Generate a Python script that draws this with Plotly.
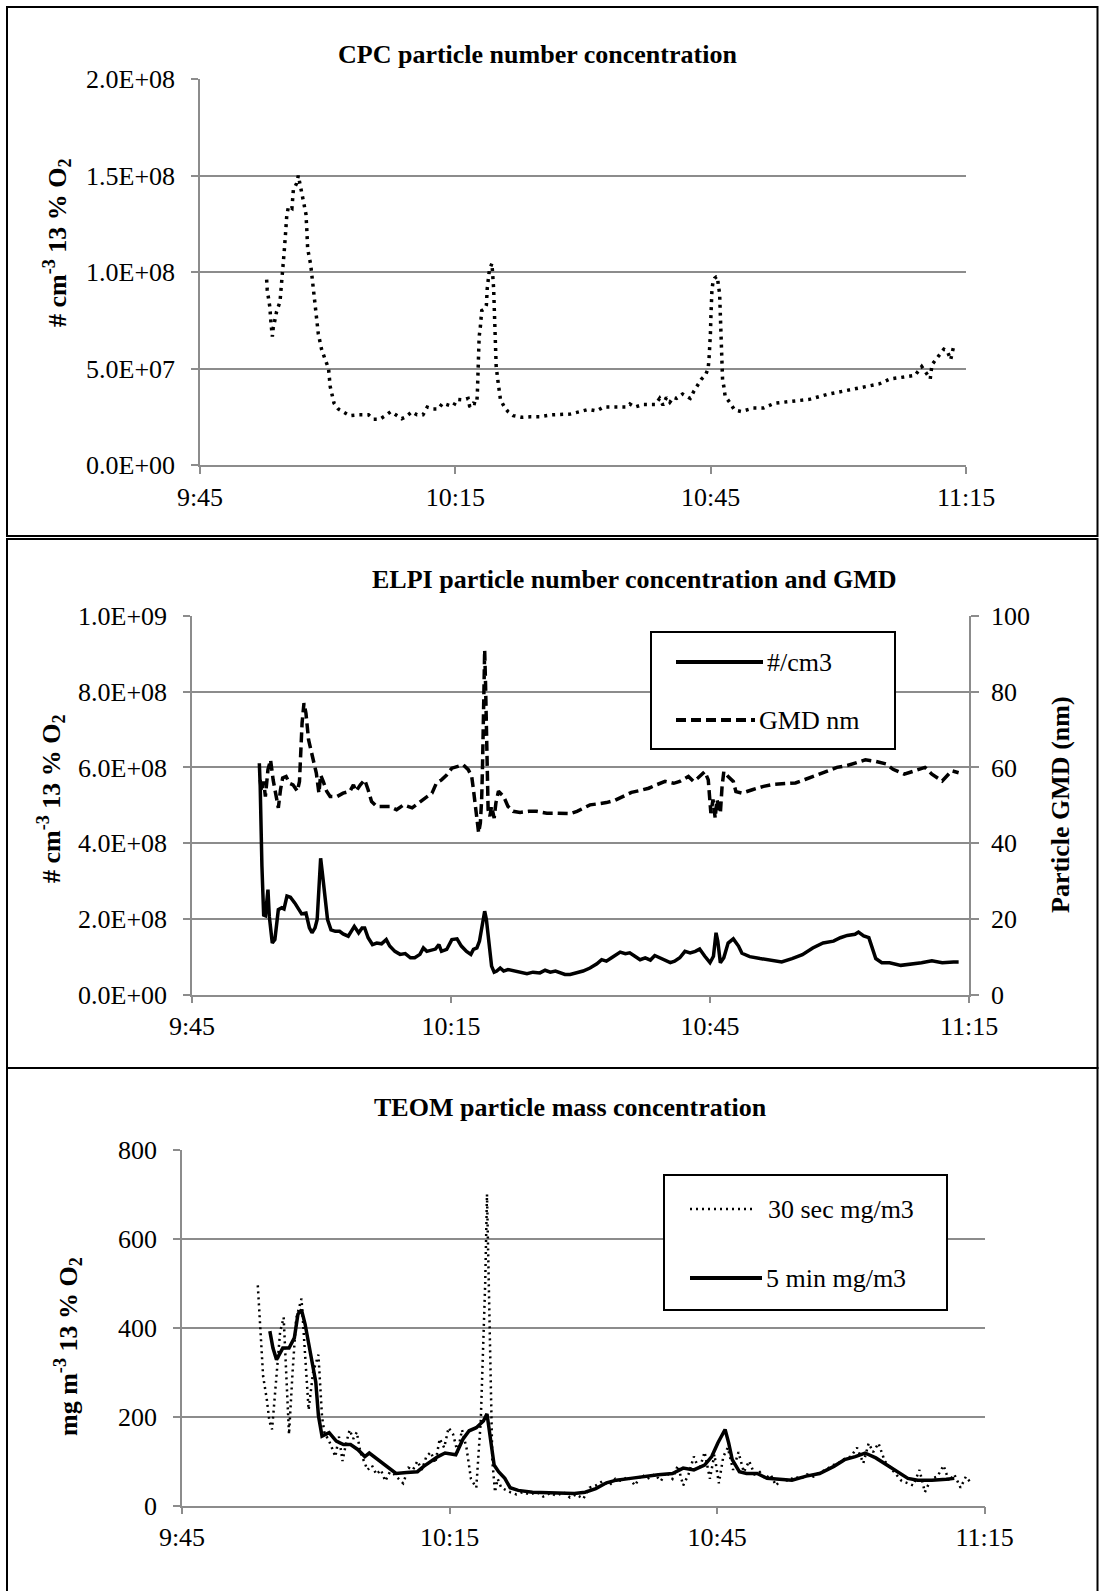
import plotly.graph_objects as go

# ---------------- data (x = minutes after 9:45) ----------------
cpc_min = [7.83, 7.9, 8.2, 8.25, 8.35, 8.5, 8.6, 8.8, 9.0, 9.4, 9.6, 9.75, 9.9, 10.05, 10.2, 10.4, 10.8, 10.97,
           11.36, 11.55, 11.75, 12.1, 12.45, 12.55, 12.65, 13.0, 13.2, 13.4, 13.65, 13.9, 14.3, 14.7, 15.1, 15.3,
           15.5, 15.75, 16.25, 17.0, 17.6, 18.6, 19.8, 20.4, 21.1, 21.8, 22.4, 23.0, 23.7, 24.2, 24.9, 25.5, 26.2,
           26.7, 27.4, 28.0, 28.5, 29.4, 29.8, 30.2, 30.9, 31.5, 31.7, 32.1, 32.5, 32.58, 32.62, 32.67, 32.72, 32.8,
           32.95, 33.1, 33.5, 33.65, 33.75, 33.85, 34.0, 34.3, 34.38, 34.5, 34.57, 34.63, 34.7, 34.74, 34.8, 35.05,
           35.3, 35.8, 36.2, 36.8, 37.8, 38.8, 39.9, 41.3, 42.3, 43.5, 44.6, 45.6, 46.6, 47.4, 48.8, 50.1, 50.5, 51.1,
           52.1, 53.5, 54.0, 54.4, 54.8, 55.2, 55.6, 56.0, 56.7, 57.6, 58.0, 58.5, 58.9, 59.4, 59.7, 59.8, 59.9, 59.97,
           60.03, 60.08, 60.15, 60.28, 60.45, 60.7, 60.8, 60.9, 61.05, 61.12, 61.2, 61.28, 61.4, 61.55, 61.7, 62.3,
           62.8, 63.6, 65.0, 66.2, 67.5, 69.5, 71.6, 73.7, 75.7, 77.8, 79.8, 81.1, 82.7, 84.0, 84.8, 85.8, 86.0, 86.8,
           87.4, 87.8, 88.2, 88.6]
cpc_1e7 = [9.6, 9.07, 8.2, 7.8, 7.3, 6.65, 7.1, 7.5, 7.95, 8.46, 9.4, 10.3, 11.1, 12.0, 12.95, 13.4, 13.3, 14.25,
           14.6, 15.0, 14.6, 13.9, 13.0, 12.2, 11.2, 10.4, 9.5, 8.6, 7.7, 6.8, 5.96, 5.5, 5.0, 4.06,
           3.6, 3.2, 2.9, 2.73, 2.56, 2.6, 2.6, 2.37, 2.37, 2.56, 2.76, 2.6, 2.4, 2.5, 2.76, 2.6, 2.6,
           3.0, 2.9, 2.9, 3.2, 3.07, 3.07, 3.4, 3.37, 3.45, 3.0, 3.2, 3.16, 3.6, 4.06, 4.9, 5.8, 6.65,
           7.2, 8.0, 8.1, 8.3, 9.15, 9.7, 10.1, 10.45, 10.0, 9.15, 8.2, 7.3, 6.4, 5.96, 5.1, 4.2,
           3.4, 2.97, 2.76, 2.56, 2.47, 2.5, 2.5, 2.6, 2.6, 2.64, 2.76, 2.88, 2.8, 3.0, 3.0, 3.0, 3.16, 3.0,
           3.14, 3.14, 3.45, 3.1, 3.5, 3.25, 3.5, 3.45, 3.68, 3.45, 3.8, 4.15, 4.44, 4.66, 5.0, 5.44, 5.96, 6.8,
           7.7, 8.55, 9.07, 9.5, 9.67, 9.76, 9.76, 9.3, 8.9, 8.0, 6.65, 5.44, 4.4, 4.06, 3.57, 3.2,
           2.85, 2.77, 2.95, 2.95, 3.2, 3.3, 3.4, 3.66, 3.84, 4.0, 4.2, 4.46, 4.55, 4.64, 5.1, 4.46, 5.2, 5.7,
           6.0, 5.9, 5.45, 6.25]

elpi_min = [7.8, 7.9, 8.1, 8.3, 8.5, 8.8, 8.95, 9.3, 9.6, 10.0, 10.4, 10.66, 11.0, 11.4, 11.9, 12.3, 12.7, 13.2,
            13.6, 13.9, 14.25, 14.5, 14.75, 14.9, 15.1, 15.4, 15.7, 16.1, 16.6, 17.1, 17.5, 18.1, 18.8, 19.3, 19.7,
            20.0, 20.4, 20.9, 21.4, 21.95, 22.5, 22.9, 23.5, 24.1, 24.7, 25.3, 25.8, 26.4, 26.8, 27.2, 27.8, 28.2,
            28.6, 28.9, 29.5, 30.1, 30.7, 31.2, 31.8, 32.3, 32.6, 33.0, 33.3, 33.55, 33.9, 34.1, 34.4, 34.7, 35.0,
            35.3, 35.7, 36.1, 36.6, 37.2, 38.0, 38.8, 39.5, 40.3, 40.9, 41.5, 42.1, 42.6, 43.2, 43.8, 44.6, 45.3,
            46.1, 46.9, 47.45, 48.0, 48.6, 49.2, 49.6, 50.2, 50.7, 51.3, 51.9, 52.5, 53.1, 53.6, 54.2, 54.8, 55.4,
            55.9, 56.5, 57.1, 57.7, 58.3, 58.8, 59.4, 60.0, 60.4, 60.7, 60.9, 61.2, 61.6, 62.1, 62.7, 63.3, 63.7,
            64.6, 65.8, 67.0, 68.3, 69.5, 70.7, 71.9, 73.1, 74.3, 75.1, 75.9, 76.8, 77.2, 77.8, 78.4, 78.8, 79.2,
            79.9, 80.8, 82.1, 83.3, 84.5, 85.7, 86.9, 88.2, 88.8]
elpi_1e8 = [6.11, 5.5, 3.39, 2.1, 2.08, 2.77, 2.07, 1.36, 1.45, 2.24, 2.29, 2.26, 2.6, 2.57, 2.42, 2.26, 2.13, 2.15,
            1.76, 1.63, 1.76, 1.98, 2.86, 3.6, 3.21, 2.5, 1.98, 1.71, 1.67, 1.67, 1.6, 1.54, 1.8, 1.63, 1.76,
            1.76, 1.5, 1.32, 1.36, 1.34, 1.45, 1.28, 1.14, 1.06, 1.08, 0.97, 0.97, 1.06, 1.23, 1.14, 1.17, 1.2,
            1.32, 1.14, 1.19, 1.45, 1.47, 1.28, 1.14, 1.06, 1.19, 1.23, 1.41, 1.76, 2.2, 1.98, 1.36, 0.75, 0.59,
            0.62, 0.70, 0.62, 0.66, 0.63, 0.57, 0.55, 0.59, 0.57, 0.64, 0.59, 0.62, 0.57, 0.53, 0.53, 0.57, 0.62,
            0.70, 0.81, 0.92, 0.88, 0.97, 1.06, 1.12, 1.08, 1.1, 1.01, 0.92, 0.97, 0.91, 1.03, 0.97, 0.92, 0.84,
            0.88, 0.97, 1.14, 1.1, 1.14, 1.2, 1.01, 0.84, 1.01, 1.63, 1.41, 0.84, 0.97, 1.36, 1.47, 1.28, 1.09,
            1.0, 0.95, 0.91, 0.86, 0.95, 1.05, 1.23, 1.36, 1.41, 1.5, 1.56, 1.59, 1.65, 1.55, 1.5, 1.23, 0.95,
            0.84, 0.84, 0.77, 0.8, 0.84, 0.89, 0.84, 0.86, 0.86]

gmd_min = [7.9, 8.05, 8.3, 8.5, 8.8, 9.1, 9.4, 9.7, 10.0, 10.25, 10.5, 10.9, 11.3, 11.7, 12.2, 12.45, 12.6, 12.75,
           12.97, 13.2, 13.5, 13.8, 14.1, 14.4, 14.7, 14.9, 15.2, 15.6, 16.0, 16.8, 17.5, 18.3, 18.7, 19.0, 19.5,
           20.0, 20.4, 20.8, 21.4, 22.2, 22.9, 23.7, 24.5, 25.5, 26.2, 27.0, 27.8, 28.3, 28.9, 29.5, 30.1, 30.9,
           31.4, 32.0, 32.4, 32.6, 32.8, 33.0, 33.2, 33.4, 33.55, 33.65, 33.72, 33.8, 33.9, 34.0, 34.1, 34.2, 34.3,
           34.5, 34.7, 35.0, 35.2, 35.5, 36.1, 36.6, 37.2, 38.0, 39.0, 39.9, 41.1, 42.2, 43.2, 43.8, 44.6, 45.3,
           46.1, 47.1, 48.0, 49.0, 50.0, 50.9, 51.9, 52.9, 53.8, 54.8, 55.8, 56.5, 57.5, 58.1, 58.6, 59.4, 59.8,
           59.95, 60.1, 60.35, 60.6, 60.8, 61.2, 61.4, 61.6, 62.1, 62.7, 63.0, 63.7, 64.9, 66.2, 67.3, 68.7, 69.9,
           71.0, 72.3, 73.5, 74.7, 75.9, 76.8, 78.0, 79.2, 80.4, 81.2, 82.5, 83.7, 84.9, 85.7, 86.9, 88.0, 88.8]
gmd_nm = [56.7, 53.7, 56.3, 52.3, 59.4, 62.0, 56.7, 53.2, 49.3, 54.1, 57.2, 57.6, 55.8, 55.4, 53.7, 56.3, 66.4, 71.7,
          77.0, 74.3, 67.3, 64.6, 62.0, 58.5, 53.2, 58.0, 56.3, 53.7, 52.3, 52.3, 53.2, 53.7, 55.4, 53.7, 55.4,
          56.7, 54.1, 51.0, 49.7, 49.7, 49.7, 48.8, 50.1, 49.3, 50.6, 51.9, 53.2, 55.8, 56.7, 58.0, 59.8, 60.5,
          60.7, 59.4, 57.6, 54.1, 49.7, 46.2, 42.7, 45.3, 51.5, 60.2, 69.0, 77.8, 91.0, 82.2, 69.0, 55.8, 48.8,
          47.1, 49.7, 46.6, 50.6, 53.7, 52.3, 49.7, 48.4, 48.1, 48.4, 48.4, 47.9, 47.9, 47.9, 47.8, 48.4, 49.3,
          50.1, 50.4, 50.7, 51.3, 52.3, 53.4, 53.9, 54.5, 55.4, 56.3, 55.8, 56.3, 57.6, 56.3, 57.2, 58.9, 56.7,
          52.3, 47.9, 51.5, 46.6, 51.5, 47.9, 55.0, 58.9, 57.6, 56.3, 53.6, 53.2, 54.1, 55.0, 55.5, 55.6, 55.9,
          56.8, 58.0, 59.1, 60.0, 60.5, 61.1, 62.0, 61.6, 60.9, 59.5, 58.2, 59.1, 60.0, 58.2, 56.4, 59.1, 58.6]

teom30_min = [8.5, 8.8, 9.1, 9.5, 9.8, 10.1, 10.5, 11.0, 11.4, 11.7, 12.0, 12.4, 12.8, 13.4, 13.8, 14.2, 14.7, 15.3,
              15.7, 16.0, 16.4, 16.8, 17.2, 17.6, 18.0, 18.4, 18.8, 19.2, 19.6, 20.0, 20.4, 20.8, 21.3, 21.8, 22.3,
              22.8, 23.3, 23.8, 24.3, 24.8, 25.4, 25.9, 26.4, 26.9, 27.4, 27.9, 28.4, 28.9, 29.4, 29.9, 30.4, 30.9,
              31.4, 31.9, 32.4, 33.0, 33.5, 34.0, 34.2, 34.5, 34.8, 35.1, 35.4, 35.8, 36.3, 36.8, 37.5, 38.2, 39.0,
              39.8, 40.5, 41.3, 42.0, 42.8, 43.5, 44.2, 45.0, 45.7, 46.4, 47.2, 47.9, 48.6, 49.3, 50.0, 50.8, 51.5,
              52.2, 53.0, 53.7, 54.3, 55.0, 55.6, 56.2, 56.8, 57.4, 58.0, 58.6, 59.2, 59.7, 60.2, 60.7, 61.2, 61.8,
              62.4, 63.0, 63.6, 64.2, 64.8, 65.4, 66.0, 66.6, 67.3, 68.0, 68.7, 69.4, 70.1, 70.8, 71.5, 72.2, 72.9,
              73.6, 74.3, 75.0, 75.7, 76.4, 77.0, 77.5, 78.1, 78.8, 79.4, 80.0, 80.7, 81.4, 82.0, 82.7, 83.3, 84.0,
              84.7, 85.4, 86.0, 86.6, 87.3, 87.9, 88.5]
teom30_val = [495, 400, 290, 240, 190, 171, 260, 390, 423, 300, 160, 300, 420, 465, 330, 215, 300, 339,
              200, 160, 150, 130, 110, 155, 100, 140, 170, 150, 165, 120, 100, 80, 90, 70, 80,
              55, 75, 70, 60, 50, 85, 80, 100, 80, 110, 120, 95, 150, 130, 175, 160, 120,
              170, 130, 60, 40, 190, 500, 700, 400, 100, 30, 60, 40, 35, 30, 25, 30, 25,
              30, 20, 28, 22, 30, 18, 25, 15, 40, 45, 55, 45, 60, 55, 65, 45, 70,
              60, 70, 55, 75, 60, 90, 45, 70, 110, 80, 120, 60, 115, 50, 110, 130, 80,
              120, 75, 100, 70, 75, 60, 70, 45, 60, 55, 65, 60, 70, 65, 75, 80, 90,
              95, 105, 110, 130, 95, 140, 120, 140, 100, 85, 70, 55, 50, 45, 80, 30, 60,
              65, 90, 55, 70, 40, 65, 50]

teom5_min = [9.85, 10.2, 10.6, 11.3, 12.0, 12.6, 13.0, 13.4, 13.8, 14.4, 15.0, 15.3, 15.7, 16.5, 17.3, 18.1, 18.9,
             19.7, 20.5, 21.0, 22.0, 23.2, 24.0, 25.2, 26.4, 27.1, 27.9, 28.7, 29.5, 30.7, 31.5, 32.2, 33.0, 33.8,
             34.2, 34.6, 35.0, 35.5, 36.2, 36.8, 37.7, 39.3, 40.9, 42.5, 44.0, 45.2, 46.4, 47.6, 48.7, 50.3, 51.9,
             53.4, 55.0, 56.2, 57.4, 58.6, 59.4, 60.1, 60.9, 61.3, 61.7, 62.5, 63.3, 64.5, 65.6, 66.8, 68.4, 70.0,
             71.5, 73.1, 74.3, 75.5, 76.6, 77.8, 79.0, 80.2, 81.4, 82.5, 84.1, 85.7, 86.6]
teom5_val = [392, 354, 328, 354, 354, 377, 430, 440, 408, 339, 278, 202, 156, 164, 145, 137, 137,
             126, 110, 118, 103, 84, 72, 74, 76, 88, 99, 110, 118, 114, 149, 168, 175, 190,
             206, 149, 91, 76, 61, 40, 34, 30, 29, 28, 27, 30, 38, 51, 57, 61, 66,
             69, 72, 84, 80, 91, 110, 141, 171, 141, 103, 76, 72, 72, 61, 59, 57, 66,
             72, 88, 103, 110, 118, 107, 91, 76, 61, 57, 57, 59, 61]

x_tick_min = [0, 30, 60, 90]
x_tick_text = ["9:45", "10:15", "10:45", "11:15"]
cpc_ticks = [0, 5e7, 1e8, 1.5e8, 2e8]
cpc_tick_text = ["0.0E+00", "5.0E+07", "1.0E+08", "1.5E+08", "2.0E+08"]
elpi_ticks = [0, 2e8, 4e8, 6e8, 8e8, 1e9]
elpi_tick_text = ["0.0E+00", "2.0E+08", "4.0E+08", "6.0E+08", "8.0E+08", "1.0E+09"]
gmd_ticks = [0, 20, 40, 60, 80, 100]
teom_ticks = [0, 200, 400, 600, 800]

# ---------------- figure ----------------
W, H = 1099, 1591
FONT = "Liberation Serif, Times New Roman, serif"
GRAY = "#8c8c8c"


def fx(p):
    return p / W


def fy(p):
    return 1 - p / H


fig = go.Figure()

fig.add_trace(go.Scatter(x=cpc_min, y=[v * 1e7 for v in cpc_1e7], mode="lines",
                         line=dict(color="black", width=3.5, dash="3px,5px"),
                         xaxis="x", yaxis="y", name="CPC", showlegend=False))
fig.add_trace(go.Scatter(x=elpi_min, y=[v * 1e8 for v in elpi_1e8], mode="lines",
                         line=dict(color="black", width=3.5),
                         xaxis="x2", yaxis="y2", name="#/cm3", showlegend=False))
fig.add_trace(go.Scatter(x=gmd_min, y=gmd_nm, mode="lines",
                         line=dict(color="black", width=3.5, dash="10px,5px"),
                         xaxis="x2", yaxis="y3", name="GMD nm", showlegend=False))
fig.add_trace(go.Scatter(x=teom30_min, y=teom30_val, mode="lines",
                         line=dict(color="black", width=2.5, dash="2px,4px"),
                         xaxis="x3", yaxis="y4", name="30 sec mg/m3", showlegend=False))
fig.add_trace(go.Scatter(x=teom5_min, y=teom5_val, mode="lines",
                         line=dict(color="black", width=3.5),
                         xaxis="x3", yaxis="y4", name="5 min mg/m3", showlegend=False))

tickfont = dict(family=FONT, size=26, color="black")


def xaxis(dom, anchor):
    return dict(domain=dom, anchor=anchor, type="linear", range=[0, 90], automargin=False,
                tickvals=x_tick_min, ticktext=x_tick_text,
                showgrid=False, zeroline=False, showline=True, linecolor=GRAY, linewidth=1.5,
                ticks="outside", ticklen=7, tickwidth=1.5, tickcolor=GRAY,
                tickfont=tickfont, ticklabelstandoff=1)


def yaxis(dom, anchor, rng, tv, tt):
    return dict(domain=dom, anchor=anchor, range=rng, tickvals=tv, ticktext=tt, automargin=False,
                showgrid=True, gridcolor=GRAY, gridwidth=1.5, zeroline=False,
                showline=True, linecolor=GRAY, linewidth=1.5,
                ticks="outside", ticklen=7, tickwidth=1.5, tickcolor=GRAY,
                tickfont=tickfont, ticklabelstandoff=11)


fig.update_layout(
    template="none",
    width=W, height=H, margin=dict(l=0, r=0, t=0, b=0, pad=0), autosize=False,
    paper_bgcolor="white", plot_bgcolor="white", showlegend=False,
    xaxis=xaxis([fx(200), fx(966)], "y"),
    yaxis=yaxis([fy(465), fy(79)], "x", [0, 2e8], cpc_ticks, cpc_tick_text),
    xaxis2=xaxis([fx(192), fx(969)], "y2"),
    yaxis2=yaxis([fy(994.5), fy(616)], "x2", [0, 1e9], elpi_ticks, elpi_tick_text),
    yaxis3=dict(overlaying="y2", anchor="x2", side="right", range=[0, 100], tickvals=gmd_ticks,
                ticktext=[str(v) for v in gmd_ticks], showgrid=False, zeroline=False, automargin=False,
                showline=True, linecolor=GRAY, linewidth=1.5, ticks="outside", ticklen=8,
                tickwidth=1.5, tickcolor=GRAY, tickfont=tickfont, ticklabelstandoff=7),
    xaxis3=xaxis([fx(182), fx(984.6)], "y4"),
    yaxis4=yaxis([fy(1505.5), fy(1149.7)], "x3", [0, 800], teom_ticks, [str(v) for v in teom_ticks]),
)

shapes = []
# panel frames
for (y0, y1) in [(7, 536), (539, 1068), (1068, 1600)]:
    shapes.append(dict(type="rect", xref="paper", yref="paper", x0=fx(7), x1=fx(1097.5),
                       y0=fy(y1), y1=fy(y0), line=dict(color="black", width=2), fillcolor="rgba(0,0,0,0)"))
# legend boxes
shapes.append(dict(type="rect", xref="paper", yref="paper", x0=fx(651), x1=fx(895), y0=fy(749), y1=fy(632),
                   line=dict(color="black", width=2), fillcolor="white", layer="above"))
shapes.append(dict(type="rect", xref="paper", yref="paper", x0=fx(664), x1=fx(947), y0=fy(1310), y1=fy(1175),
                   line=dict(color="black", width=2), fillcolor="white", layer="above"))
legend_items = [
    (676, 763, 662, dict(color="black", width=4), "#/cm3", 765),
    (676, 755, 720, dict(color="black", width=4, dash="10px,5px"), "GMD nm", 757),
    (690, 755, 1209, dict(color="black", width=2.5, dash="2px,4px"), "30 sec mg/m3", 766),
    (690, 762, 1278, dict(color="black", width=4), "5 min mg/m3", 764),
]
annotations = []
for x0, x1, yy, ln, txt, tx in legend_items:
    shapes.append(dict(type="line", xref="paper", yref="paper", x0=fx(x0), x1=fx(x1), y0=fy(yy), y1=fy(yy),
                       line=ln, layer="above"))
    annotations.append(dict(xref="paper", yref="paper", x=fx(tx), y=fy(yy), text=txt, showarrow=False,
                            xanchor="left", yanchor="middle", font=dict(family=FONT, size=26, color="black")))

# titles
for txt, cx, cy in [("CPC particle number concentration", 537, 55),
                    ("ELPI particle number concentration and GMD", 634, 579),
                    ("TEOM particle mass concentration", 570, 1107)]:
    annotations.append(dict(xref="paper", yref="paper", x=fx(cx), y=fy(cy), text="<b>" + txt + "</b>",
                            showarrow=False, xanchor="center", yanchor="middle",
                            font=dict(family=FONT, size=26, color="black")))
# axis titles
ytitle_num = "<b># cm<sup>-3</sup> 13 % O<sub>2</sub></b>"
for txt, cx, cy in [(ytitle_num, 57, 243), (ytitle_num, 51, 799),
                    ("<b>Particle GMD (nm)</b>", 1060, 805),
                    ("<b>mg m<sup>-3</sup> 13 % O<sub>2</sub></b>", 68, 1347)]:
    annotations.append(dict(xref="paper", yref="paper", x=fx(cx), y=fy(cy), text=txt, textangle=-90,
                            showarrow=False, xanchor="center", yanchor="middle",
                            font=dict(family=FONT, size=26, color="black")))

fig.update_layout(shapes=shapes, annotations=annotations)
fig.write_html("out.html")
